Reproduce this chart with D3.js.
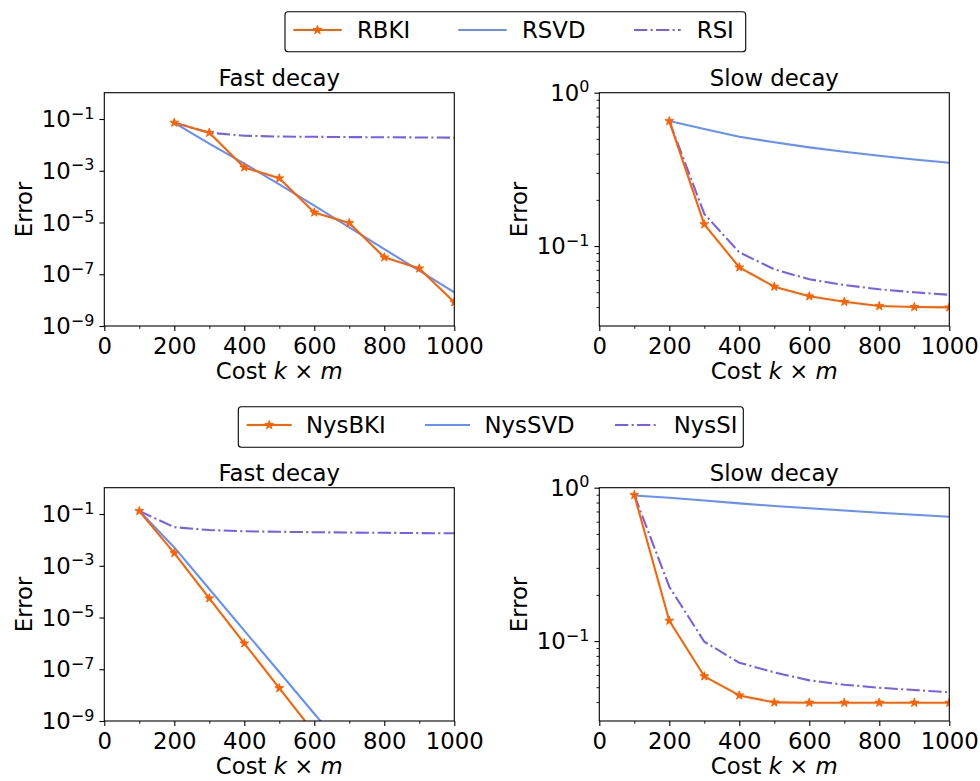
<!DOCTYPE html>
<html><head><meta charset="utf-8">
<script src="https://cdn.jsdelivr.net/npm/d3@7"></script>
<style>
body{margin:0;background:#fff}
svg{display:block}
text{font-family:"DejaVu Sans",sans-serif;fill:#000}
</style>
</head><body>
<svg id="c" width="980" height="781"></svg>
<script>
// ---------- data ----------
const costTop = [200, 300, 400, 500, 600, 700, 800, 900, 1000];
const costBot = [100, 200, 300, 400, 500, 600, 700, 800, 900, 1000];

const rbkiFast = [0.072, 0.0295, 1.35e-3, 5.1e-4, 2.45e-5, 9.5e-6, 4.5e-7, 1.67e-7, 8.3e-9];
const rsvdFast = [0.0708, 0.0112, 1.9e-3, 2.95e-4, 4.47e-5, 6.46e-6, 9.3e-7, 1.38e-7, 2.0e-8];
const rsiFast  = [0.072, 0.0295, 0.0226, 0.0210, 0.0205, 0.0200, 0.0197, 0.0194, 0.0190];

const rbkiSlow = [0.653, 0.1386, 0.0726, 0.0543, 0.0470, 0.0433, 0.0406, 0.0400, 0.0398];
const rsvdSlow = [0.653, 0.580, 0.516, 0.475, 0.440, 0.412, 0.388, 0.367, 0.349];
const rsiSlow  = [0.653, 0.162, 0.091, 0.0705, 0.0607, 0.0557, 0.0522, 0.0499, 0.0481];

const nysbkiFast = [0.13, 3.1e-3, 5.5e-5, 1.0e-6, 1.86e-8, 3.5e-10];
const nyssvdFast = [0.13, 5.1e-3, 1.26e-4, 3.1e-6, 7.8e-8, 1.9e-9, 5.0e-11];
const nyssiFast  = [0.13, 0.031, 0.024, 0.0215, 0.0205, 0.0198, 0.0192, 0.0188, 0.0183, 0.0180];

const nysbkiSlow = [0.896, 0.1357, 0.0589, 0.0442, 0.0398, 0.0396, 0.0396, 0.0396, 0.0396, 0.0396];
const nyssvdSlow = [0.89, 0.86, 0.825, 0.79, 0.76, 0.734, 0.71, 0.687, 0.666, 0.647];
const nyssiSlow  = [0.896, 0.226, 0.099, 0.0722, 0.0625, 0.0554, 0.0519, 0.0496, 0.0479, 0.0463];

const xTicksMajor = [0, 200, 400, 600, 800, 1000];
const xTicksMinor = [100, 300, 500, 700, 900];
const fastYTicks = [-1, -3, -5, -7, -9];          // exponents
const slowYTicks = [0, -1];
const slowYMinor = [0.03,0.04,0.05,0.06,0.07,0.08,0.09,0.2,0.3,0.4,0.5,0.6,0.7,0.8,0.9];

const legendTop = ["RBKI", "RSVD", "RSI"];
const legendBot = ["NysBKI", "NysSVD", "NysSI"];
const titles = ["Fast decay", "Slow decay"];

// ---------- style ----------
const C_BKI = "#FE6100", C_SVD = "#648FFF", C_SI = "#785EF0";
const LW = 2.08;
const FS = 22.8;
const DASHDOT = "13.3,3.3,2.1,3.3";
const W = 350, H = 233.3;

const svg = d3.select("#c");
const zip = (xs, ys) => ys.map((v, i) => [xs[i], v]);

const panels = [
  {x0:104.3, y0:92.7, title:titles[0], fast:true,
   bki:zip(costTop,rbkiFast), svd:zip(costTop,rsvdFast), si:zip(costTop,rsiFast)},
  {x0:599.3, y0:92.7, title:titles[1], fast:false,
   bki:zip(costTop,rbkiSlow), svd:zip(costTop,rsvdSlow), si:zip(costTop,rsiSlow)},
  {x0:104.3, y0:487.7, title:titles[0], fast:true,
   bki:zip(costBot,nysbkiFast), svd:zip(costBot,nyssvdFast), si:zip(costBot,nyssiFast)},
  {x0:599.3, y0:487.7, title:titles[1], fast:false,
   bki:zip(costBot,nysbkiSlow), svd:zip(costBot,nyssvdSlow), si:zip(costBot,nyssiSlow)},
];

const star = d3.symbol().type(d3.symbolStar).size(24);

panels.forEach((p, i) => {
  const x = d3.scaleLinear().domain([0, 1000]).range([p.x0, p.x0 + W]);
  const y = d3.scaleLog().domain(p.fast ? [1e-9, 1.04] : [0.0301, 1]).range([p.y0 + H, p.y0]);
  const cid = "clip" + i;
  svg.append("clipPath").attr("id", cid).append("rect")
    .attr("x", p.x0).attr("y", p.y0).attr("width", W).attr("height", H);
  const g = svg.append("g").attr("clip-path", `url(#${cid})`);
  const line = d3.line().x(d => x(d[0])).y(d => y(d[1]));

  g.append("path").datum(p.si).attr("d", line).attr("fill", "none")
    .attr("stroke", C_SI).attr("stroke-width", LW).attr("stroke-dasharray", DASHDOT);
  g.append("path").datum(p.svd).attr("d", line).attr("fill", "none")
    .attr("stroke", C_SVD).attr("stroke-width", LW);
  g.append("path").datum(p.bki).attr("d", line).attr("fill", "none")
    .attr("stroke", C_BKI).attr("stroke-width", LW).attr("stroke-linejoin", "round");
  g.selectAll("path.mk").data(p.bki).enter().append("path").attr("class", "mk")
    .attr("d", star).attr("transform", d => `translate(${x(d[0])},${y(d[1])})`)
    .attr("fill", C_BKI).attr("stroke", C_BKI).attr("stroke-width", 1);

  // x axis
  const xa = svg.append("g").attr("transform", `translate(0,${p.y0 + H})`);
  xa.call(d3.axisBottom(x).tickValues(xTicksMajor).tickSize(4.9).tickPadding(4).tickFormat(d3.format("d")));
  xa.select(".domain").remove();
  xa.selectAll(".tick line").attr("stroke", "#000").attr("stroke-width", 1.1);
  xa.selectAll(".tick text").attr("font-size", FS).attr("font-family", "DejaVu Sans").attr("dy", null).attr("y", 27.6);
  const xm = svg.append("g").attr("transform", `translate(0,${p.y0 + H})`);
  xm.call(d3.axisBottom(x).tickValues(xTicksMinor).tickSize(2.8).tickFormat(""));
  xm.select(".domain").remove();
  xm.selectAll(".tick line").attr("stroke", "#000").attr("stroke-width", 0.9);

  // y axis
  const ya = svg.append("g").attr("transform", `translate(${p.x0},0)`);
  const exps = p.fast ? fastYTicks : slowYTicks;
  ya.call(d3.axisLeft(y).tickValues(exps.map(e => Math.pow(10, e))).tickSize(4.9).tickPadding(5).tickFormat(""));
  ya.select(".domain").remove();
  ya.selectAll(".tick line").attr("stroke", "#000").attr("stroke-width", 1.1);
  ya.selectAll(".tick text").each(function(d) {
    const t = d3.select(this);
    const e = Math.round(Math.log10(d));
    t.attr("dy", null).attr("y", 7.7).attr("x", -10).attr("font-size", FS).attr("font-family", "DejaVu Sans");
    t.append("tspan").text("10");
    t.append("tspan").attr("font-size", FS * 0.7).attr("dy", -8.6).text(e < 0 ? "\u2212" + (-e) : String(e));
  });
  if (!p.fast) {
    const ym = svg.append("g").attr("transform", `translate(${p.x0},0)`);
    ym.call(d3.axisLeft(y).tickValues(slowYMinor.filter(v => v >= y.domain()[0])).tickSize(2.8).tickFormat(""));
    ym.select(".domain").remove();
    ym.selectAll(".tick line").attr("stroke", "#000").attr("stroke-width", 0.9);
  }

  // spines
  svg.append("rect").attr("x", p.x0).attr("y", p.y0).attr("width", W).attr("height", H)
    .attr("fill", "none").attr("stroke", "#000").attr("stroke-width", 1.1);

  // title
  svg.append("text").attr("x", p.x0 + W / 2).attr("y", p.y0 - 7).attr("text-anchor", "middle")
    .attr("font-size", FS).text(p.title);

  // x label
  const xl = svg.append("text").attr("x", p.x0 + W / 2).attr("y", p.y0 + H + 53)
    .attr("text-anchor", "middle").attr("font-size", FS);
  xl.append("tspan").text("Cost ");
  xl.append("tspan").attr("font-style", "italic").text("k");
  xl.append("tspan").text(" \u00d7 ");
  xl.append("tspan").attr("font-style", "italic").text("m");

  // y label
  svg.append("text").attr("transform", `translate(${p.x0 - 72.3},${p.y0 + H / 2}) rotate(-90)`)
    .attr("text-anchor", "middle").attr("font-size", FS).text("Error");
});

// ---------- legends ----------
function legend(names, box, ly, lines, textX, baseY) {
  svg.append("rect").attr("x", box[0]).attr("y", box[1]).attr("width", box[2]).attr("height", box[3])
    .attr("rx", 3).attr("fill", "#fff").attr("stroke", "#000").attr("stroke-width", 1.1);
  const cols = [C_BKI, C_SVD, C_SI];
  names.forEach((n, i) => {
    const l = svg.append("line").attr("x1", lines[i][0]).attr("x2", lines[i][1]).attr("y1", ly).attr("y2", ly)
      .attr("stroke", cols[i]).attr("stroke-width", LW);
    if (i === 2) l.attr("stroke-dasharray", DASHDOT);
    if (i === 0) svg.append("path").attr("d", star)
      .attr("transform", `translate(${(lines[i][0] + lines[i][1]) / 2},${ly})`)
      .attr("fill", C_BKI).attr("stroke", C_BKI).attr("stroke-width", 1);
    svg.append("text").attr("x", textX[i]).attr("y", baseY).attr("font-size", FS).text(n);
  });
}
legend(legendTop, [285, 11.7, 460.7, 40], 30, [[293.3, 341.7], [458.3, 506.7], [634, 680.7]], [357, 522, 696.8], 37.8);
legend(legendBot, [238.3, 406.7, 505, 40.6], 425, [[246.7, 291.7], [425, 470], [615, 658.3]], [306, 484.5, 673.8], 432.8);
</script>
</body></html>
